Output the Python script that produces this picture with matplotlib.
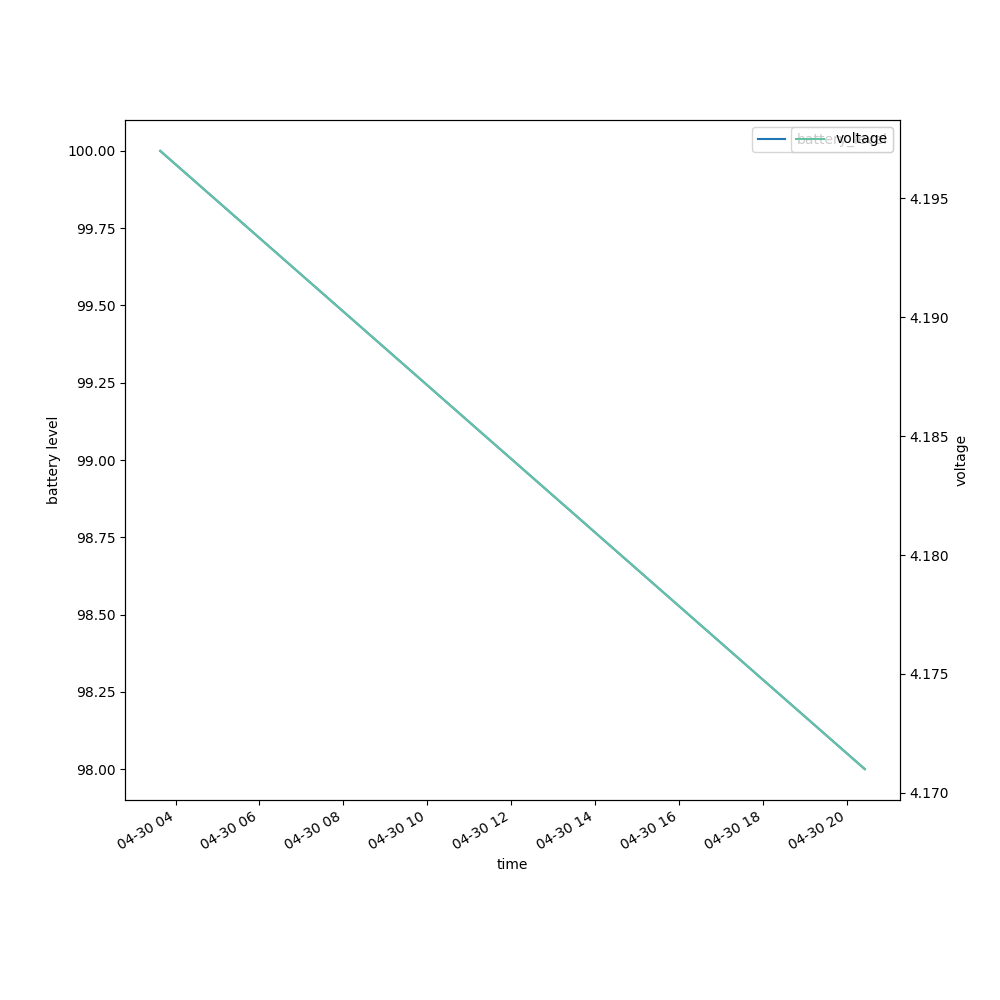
import matplotlib
matplotlib.use("Agg")
import matplotlib.pyplot as plt
import pandas as pd

# readings taken at start and end of the log
times = pd.to_datetime(["2023-04-30 03:38", "2023-04-30 20:26"])
battery_level = [100.0, 98.0]
voltage = [4.197, 4.171]

fig, ax = plt.subplots(figsize=(10, 10), dpi=100)
ax.plot(times, battery_level, color="tab:blue", label="battery_level")
ax.set_xlabel("time")
ax.set_ylabel("battery level")
ax.legend(loc="upper right")

ax2 = ax.twinx()
ax2.plot(times, voltage, color="#66c2a5", label="voltage")
ax2.set_ylabel("voltage")
ax2.legend(loc="upper right")

fig.autofmt_xdate()
fig.savefig("out.png")
